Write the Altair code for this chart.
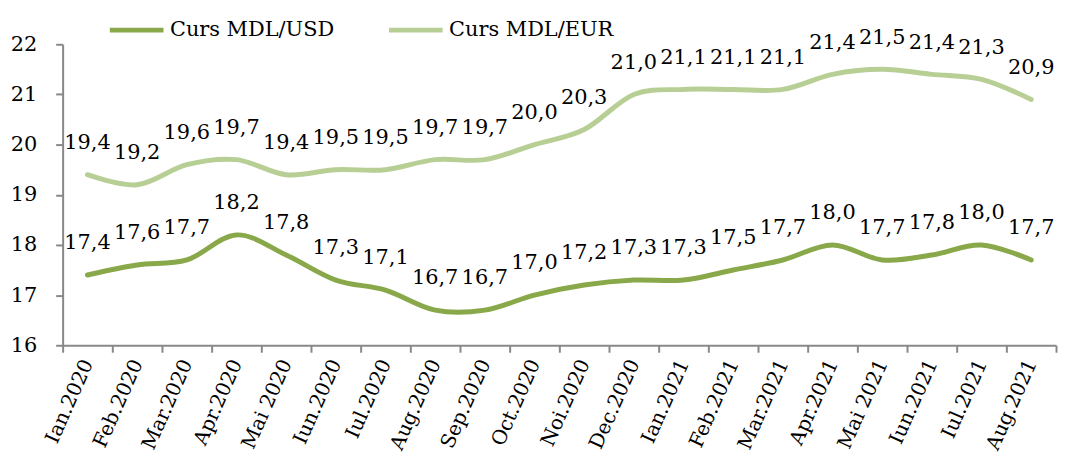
import altair as alt
import pandas as pd

months = ["Ian.2020", "Feb.2020", "Mar.2020", "Apr.2020", "Mai 2020", "Iun.2020",
          "Iul.2020", "Aug.2020", "Sep.2020", "Oct.2020", "Noi.2020", "Dec.2020",
          "Ian.2021", "Feb.2021", "Mar.2021", "Apr.2021", "Mai 2021", "Iun.2021",
          "Iul.2021", "Aug.2021"]
usd = [17.4, 17.6, 17.7, 18.2, 17.8, 17.3, 17.1, 16.7, 16.7, 17.0,
       17.2, 17.3, 17.3, 17.5, 17.7, 18.0, 17.7, 17.8, 18.0, 17.7]
eur = [19.4, 19.2, 19.6, 19.7, 19.4, 19.5, 19.5, 19.7, 19.7, 20.0,
       20.3, 21.0, 21.1, 21.1, 21.1, 21.4, 21.5, 21.4, 21.3, 20.9]
series_names = ["Curs MDL/USD", "Curs MDL/EUR"]
colors = ["#88a84a", "#b7cf95"]
y_ticks = [16, 17, 18, 19, 20, 21, 22]

rows = []
for name, vals in zip(series_names, [usd, eur]):
    for m, v in zip(months, vals):
        rows.append({"month": m, "series": name, "value": v})
df = pd.DataFrame(rows)

FONT = "DejaVu Serif"

x_enc = alt.X(
    "month:N", sort=months, bandPosition=0.5,
    scale=alt.Scale(type="band", paddingInner=0, paddingOuter=0),
    axis=alt.Axis(title=None, labelAngle=-66, labelAlign="right", labelBaseline="middle",
                  labelFont=FONT, labelFontSize=20, labelColor="black", labelPadding=8,
                  tickBand="extent", tickSize=7, tickColor="#888888", tickWidth=2,
                  domainColor="#888888", domainWidth=2, labelOverlap=False, grid=False),
)
y_enc = alt.Y(
    "value:Q",
    scale=alt.Scale(domain=[16, 22], nice=False, zero=False),
    axis=alt.Axis(title=None, values=y_ticks, labelFont=FONT, labelFontSize=21,
                  labelColor="black", labelPadding=19, tickSize=7, tickColor="#888888",
                  tickWidth=2, domainColor="#888888", domainWidth=2, grid=False),
)

lines = alt.Chart(df).mark_line(interpolate="cardinal", strokeWidth=5, strokeCap="round").encode(
    x=x_enc, y=y_enc,
    color=alt.Color("series:N", sort=series_names,
                    scale=alt.Scale(domain=series_names, range=colors),
                    legend=alt.Legend(title=None, orient="none", direction="horizontal",
                                      legendX=45, legendY=-44, symbolType="stroke",
                                      symbolSize=2916, symbolStrokeWidth=5,
                                      labelFont=FONT, labelFontSize=21, labelColor="black",
                                      labelLimit=400, labelOffset=4, columnPadding=44)),
)

labels = alt.Chart(df).transform_calculate(
    label="replace(format(datum.value, '.1f'), '.', ',')"
).mark_text(font=FONT, fontSize=21, color="black", dy=-32, baseline="middle").encode(
    x=x_enc, y=y_enc, text="label:N"
)

chart = alt.layer(lines, labels).properties(
    width=1000, height=303,
    padding={"left": 55, "top": 35, "right": 5, "bottom": 116},
    autosize=alt.AutoSizeParams(type="none"),
).configure_view(stroke=None)

chart.save("out.html", embed_options={"renderer": "svg", "actions": False})
